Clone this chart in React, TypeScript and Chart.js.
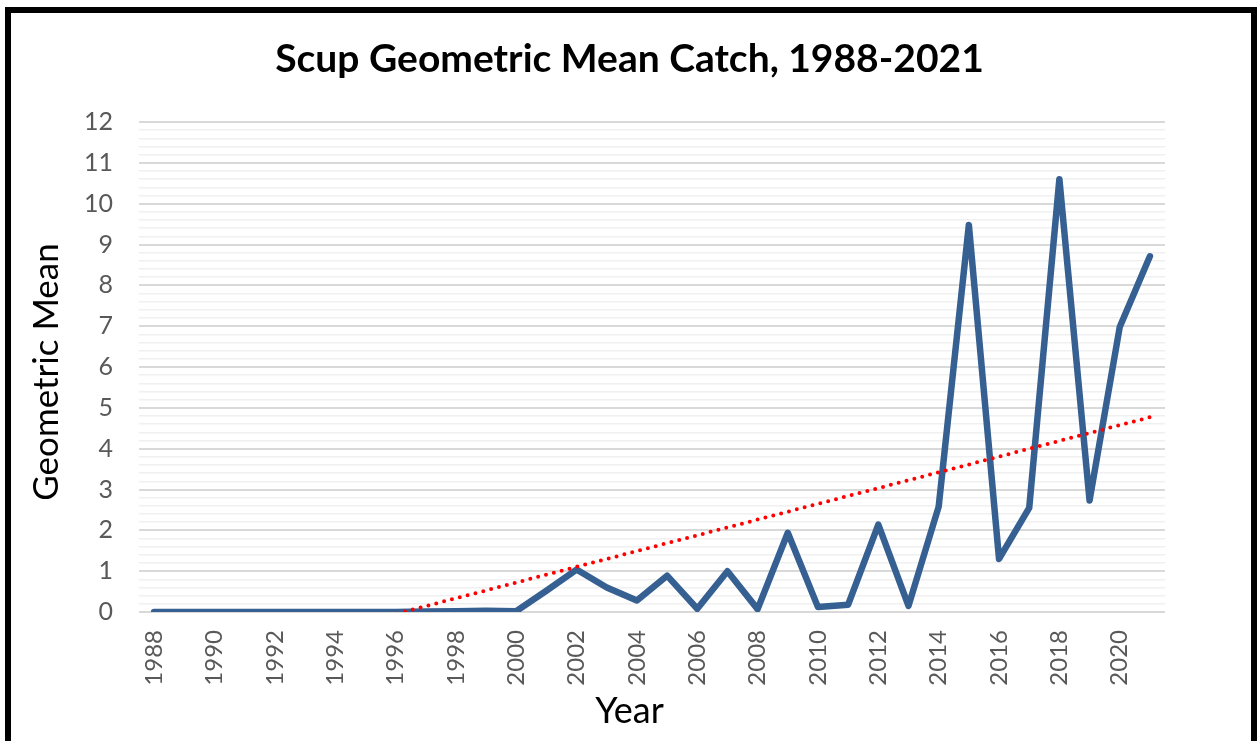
import React, { useEffect, useRef } from "react";
import { Chart, registerables } from "chart.js";

Chart.register(...registerables);

const chartTitle = "Scup Geometric Mean Catch, 1988-2021";
const xAxisTitle = "Year";
const yAxisTitle = "Geometric Mean";

const years = [
  "1988", "1989", "1990", "1991", "1992", "1993", "1994", "1995", "1996", "1997",
  "1998", "1999", "2000", "2001", "2002", "2003", "2004", "2005", "2006", "2007",
  "2008", "2009", "2010", "2011", "2012", "2013", "2014", "2015", "2016", "2017",
  "2018", "2019", "2020", "2021",
];

const geometricMean = [
  0, 0, 0, 0, 0, 0, 0, 0, 0, 0.01,
  0.02, 0.03, 0.02, 0.52, 1.04, 0.6, 0.28, 0.89, 0.08, 1.0,
  0.07, 1.94, 0.12, 0.18, 2.14, 0.15, 2.58, 9.48, 1.3, 2.55,
  10.6, 2.73, 6.98, 8.71,
];

const yMin = 0;
const yMax = 12;
const yMinorStep = 0.2;

// Linear trendline (least squares), as the spreadsheet computes it from the series
function linearTrend(values: number[]): number[] {
  const n = values.length;
  const mx = (n - 1) / 2;
  const my = values.reduce((a, b) => a + b, 0) / n;
  let sxy = 0;
  let sxx = 0;
  values.forEach((v, i) => {
    sxy += (i - mx) * (v - my);
    sxx += (i - mx) * (i - mx);
  });
  const slope = sxy / sxx;
  return values.map((_, i) => my + slope * (i - mx));
}

const isWhole = (v: number) => Math.abs(v - Math.round(v)) < 1e-6;

const FONT = "Lato, 'Liberation Sans', sans-serif";

// Chart title and axis titles centred the way the original spreadsheet chart places them
const chartTexts = {
  id: "chartTexts",
  afterDraw(chart: any) {
    const ctx = chart.ctx;
    ctx.save();
    ctx.fillStyle = "#000000";
    ctx.textAlign = "center";
    ctx.textBaseline = "middle";
    ctx.font = `bold 39px ${FONT}`;
    ctx.fillText(chartTitle, chart.width / 2 + 1, 59);
    ctx.font = `36px ${FONT}`;
    ctx.fillText(xAxisTitle, chart.width / 2 + 1, 711);
    ctx.translate(47, 372);
    ctx.rotate(-Math.PI / 2);
    ctx.font = `35px ${FONT}`;
    ctx.fillText(yAxisTitle, 0, 0);
    ctx.restore();
  },
};

export default function App() {
  const canvasRef = useRef<HTMLCanvasElement | null>(null);

  useEffect(() => {
    if (!canvasRef.current) return;
    const chart = new Chart(canvasRef.current, {
      type: "line",
      data: {
        labels: years,
        datasets: [
          {
            label: "Linear trend",
            data: linearTrend(geometricMean),
            borderColor: "#ff0000",
            borderWidth: 4,
            borderDash: [0, 8.1],
            borderCapStyle: "round",
            pointRadius: 0,
            fill: false,
            clip: 0,
            order: 0,
          },
          {
            label: "Geometric Mean",
            data: geometricMean,
            borderColor: "#366092",
            borderWidth: 6.5,
            borderJoinStyle: "round",
            borderCapStyle: "round",
            pointRadius: 0,
            tension: 0,
            fill: false,
            order: 1,
          },
        ],
      },
      plugins: [chartTexts],
      options: {
        responsive: false,
        maintainAspectRatio: false,
        animation: false,
        layout: { padding: { top: 122, left: 19, right: 92, bottom: 5 } },
        plugins: {
          legend: { display: false },
          tooltip: { enabled: false },
          title: { display: false },
        },
        scales: {
          x: {
            type: "category",
            offset: true,
            grid: { display: false, drawTicks: false },
            border: { display: false },
            afterFit: (scale: any) => {
              scale.height = 124;
            },
            ticks: {
              autoSkip: false,
              maxRotation: 90,
              minRotation: 90,
              padding: 18,
              color: "#595959",
              font: { family: FONT, size: 24 },
              callback: function (this: any, value: any, index: number) {
                return index % 2 === 0 ? this.getLabelForValue(value) : "";
              },
            },
            title: { display: false },
          },
          y: {
            min: yMin,
            max: yMax,
            border: { display: false },
            afterFit: (scale: any) => {
              scale.width = 120;
            },
            grid: {
              drawTicks: false,
              color: (ctx: any) => (isWhole(ctx.tick.value) ? "#d9d9d9" : "#f0f0f0"),
              lineWidth: (ctx: any) => (isWhole(ctx.tick.value) ? 2 : 1.5),
            },
            ticks: {
              stepSize: yMinorStep,
              autoSkip: false,
              padding: 26,
              color: "#595959",
              font: { family: FONT, size: 25 },
              callback: (value: any) => (isWhole(Number(value)) ? String(Math.round(Number(value))) : ""),
            },
            title: { display: false },
          },
        },
      },
    });
    return () => chart.destroy();
  }, []);

  return (
    <div style={{ position: "fixed", left: 0, top: 0, width: 1257, height: 741, background: "#ffffff" }}>
      <canvas ref={canvasRef} width={1257} height={741} style={{ position: "absolute", left: 0, top: 0 }} />
      <div
        style={{
          position: "absolute",
          left: 5,
          top: 7,
          width: 1252,
          height: 760,
          border: "6px solid #000000",
          boxSizing: "border-box",
          pointerEvents: "none",
        }}
      />
    </div>
  );
}
